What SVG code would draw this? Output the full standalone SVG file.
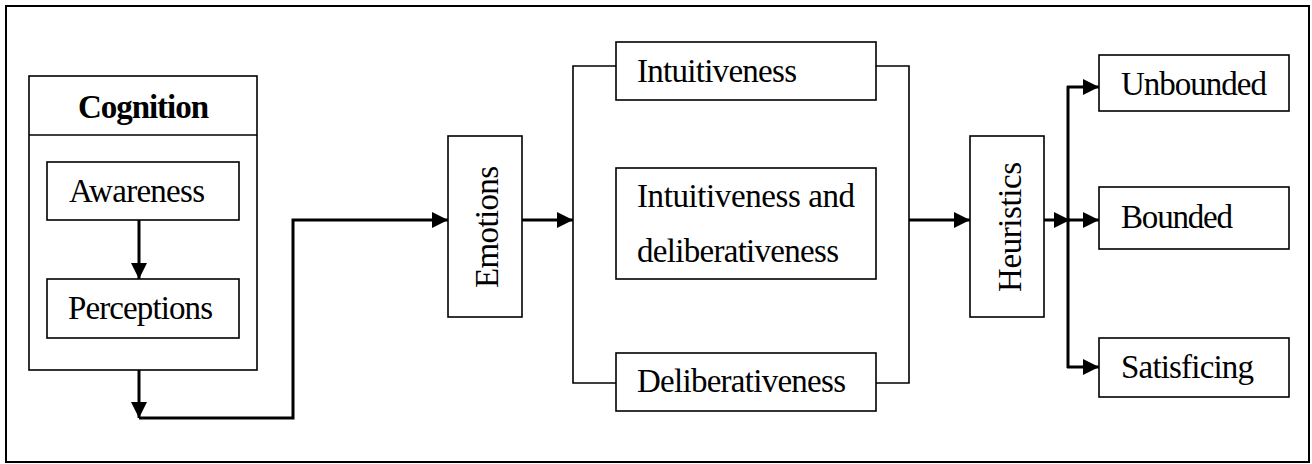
<svg xmlns="http://www.w3.org/2000/svg" width="1312" height="464" viewBox="0 0 1312 464">
<defs>
<marker id="ah" markerUnits="userSpaceOnUse" markerWidth="16" markerHeight="16" viewBox="0 0 15 15" refX="15" refY="7.5" orient="auto">
<path d="M0,0 L15,7.5 L0,15 z" fill="#000"/>
</marker>
<style>
.box{fill:#fff;stroke:#000;stroke-width:1.6}
.frame{fill:none;stroke:#000;stroke-width:1.6}
.t{font-family:"Liberation Serif","Times New Roman",serif;font-size:33px;fill:#000}
.b{font-weight:bold}
.thick{fill:none;stroke:#000;stroke-width:3}
.thin{fill:none;stroke:#000;stroke-width:1.6}
</style>
</defs>
<rect x="6" y="6" width="1303" height="456" fill="#fff" stroke="#000" stroke-width="2"/>

<g id="cognition">
<rect class="frame" x="29" y="76" width="228" height="294"/>
<line x1="29" y1="135" x2="257" y2="135" stroke="#000" stroke-width="1.6"/>
<text class="t b" x="78" y="118" textLength="131">Cognition</text>
</g>

<g id="connectors">
<line class="thick" x1="139" y1="220" x2="139" y2="279" marker-end="url(#ah)"/>
<line class="thick" x1="139" y1="370" x2="139" y2="418" marker-end="url(#ah)"/>
<polyline class="thick" points="139,418 293,418 293,220 448,220" marker-end="url(#ah)"/>
<line class="thick" x1="522" y1="220" x2="573" y2="220" marker-end="url(#ah)"/>
<polyline class="thin" points="616,66 573,66 573,383 616,383"/>
<polyline class="thin" points="876,66 909,66 909,383 876,383"/>
<line class="thick" x1="909" y1="220" x2="970" y2="220" marker-end="url(#ah)"/>
<line class="thick" x1="1044" y1="220" x2="1070" y2="220" marker-end="url(#ah)"/>
<line class="thick" x1="1068" y1="220" x2="1099" y2="220" marker-end="url(#ah)"/>
<line class="thick" x1="1068" y1="86" x2="1068" y2="368"/>
<line class="thick" x1="1067" y1="87" x2="1099" y2="87" marker-end="url(#ah)"/>
<line class="thick" x1="1067" y1="367" x2="1099" y2="367" marker-end="url(#ah)"/>
</g>

<g id="awareness">
<rect class="box" x="47" y="162" width="192" height="58"/>
<text class="t" x="69" y="202" textLength="136">Awareness</text>
</g>
<g id="perceptions">
<rect class="box" x="47" y="279" width="192" height="59"/>
<text class="t" x="68" y="319" textLength="145">Perceptions</text>
</g>
<g id="emotions">
<rect class="box" x="448" y="136" width="74" height="181"/>
<text class="t" transform="translate(498,288) rotate(-90)" textLength="122">Emotions</text>
</g>
<g id="intuitiveness">
<rect class="box" x="616" y="42" width="260" height="58"/>
<text class="t" x="637" y="82" textLength="160">Intuitiveness</text>
</g>
<g id="both">
<rect class="box" x="616" y="168" width="260" height="111"/>
<text class="t" x="637" y="207" textLength="218">Intuitiveness  and</text>
<text class="t" x="637" y="262" textLength="202">deliberativeness</text>
</g>
<g id="deliberativeness">
<rect class="box" x="616" y="353" width="260" height="58"/>
<text class="t" x="637" y="392" textLength="209">Deliberativeness</text>
</g>
<g id="heuristics">
<rect class="box" x="970" y="136" width="74" height="181"/>
<text class="t" transform="translate(1021,292) rotate(-90)" textLength="130">Heuristics</text>
</g>
<g id="unbounded">
<rect class="box" x="1099" y="55" width="190" height="56"/>
<text class="t" x="1121" y="95" textLength="146">Unbounded</text>
</g>
<g id="bounded">
<rect class="box" x="1099" y="187" width="190" height="62"/>
<text class="t" x="1121" y="228" textLength="112">Bounded</text>
</g>
<g id="satisficing">
<rect class="box" x="1099" y="338" width="190" height="59"/>
<text class="t" x="1121" y="378" textLength="133">Satisficing</text>
</g>
</svg>
